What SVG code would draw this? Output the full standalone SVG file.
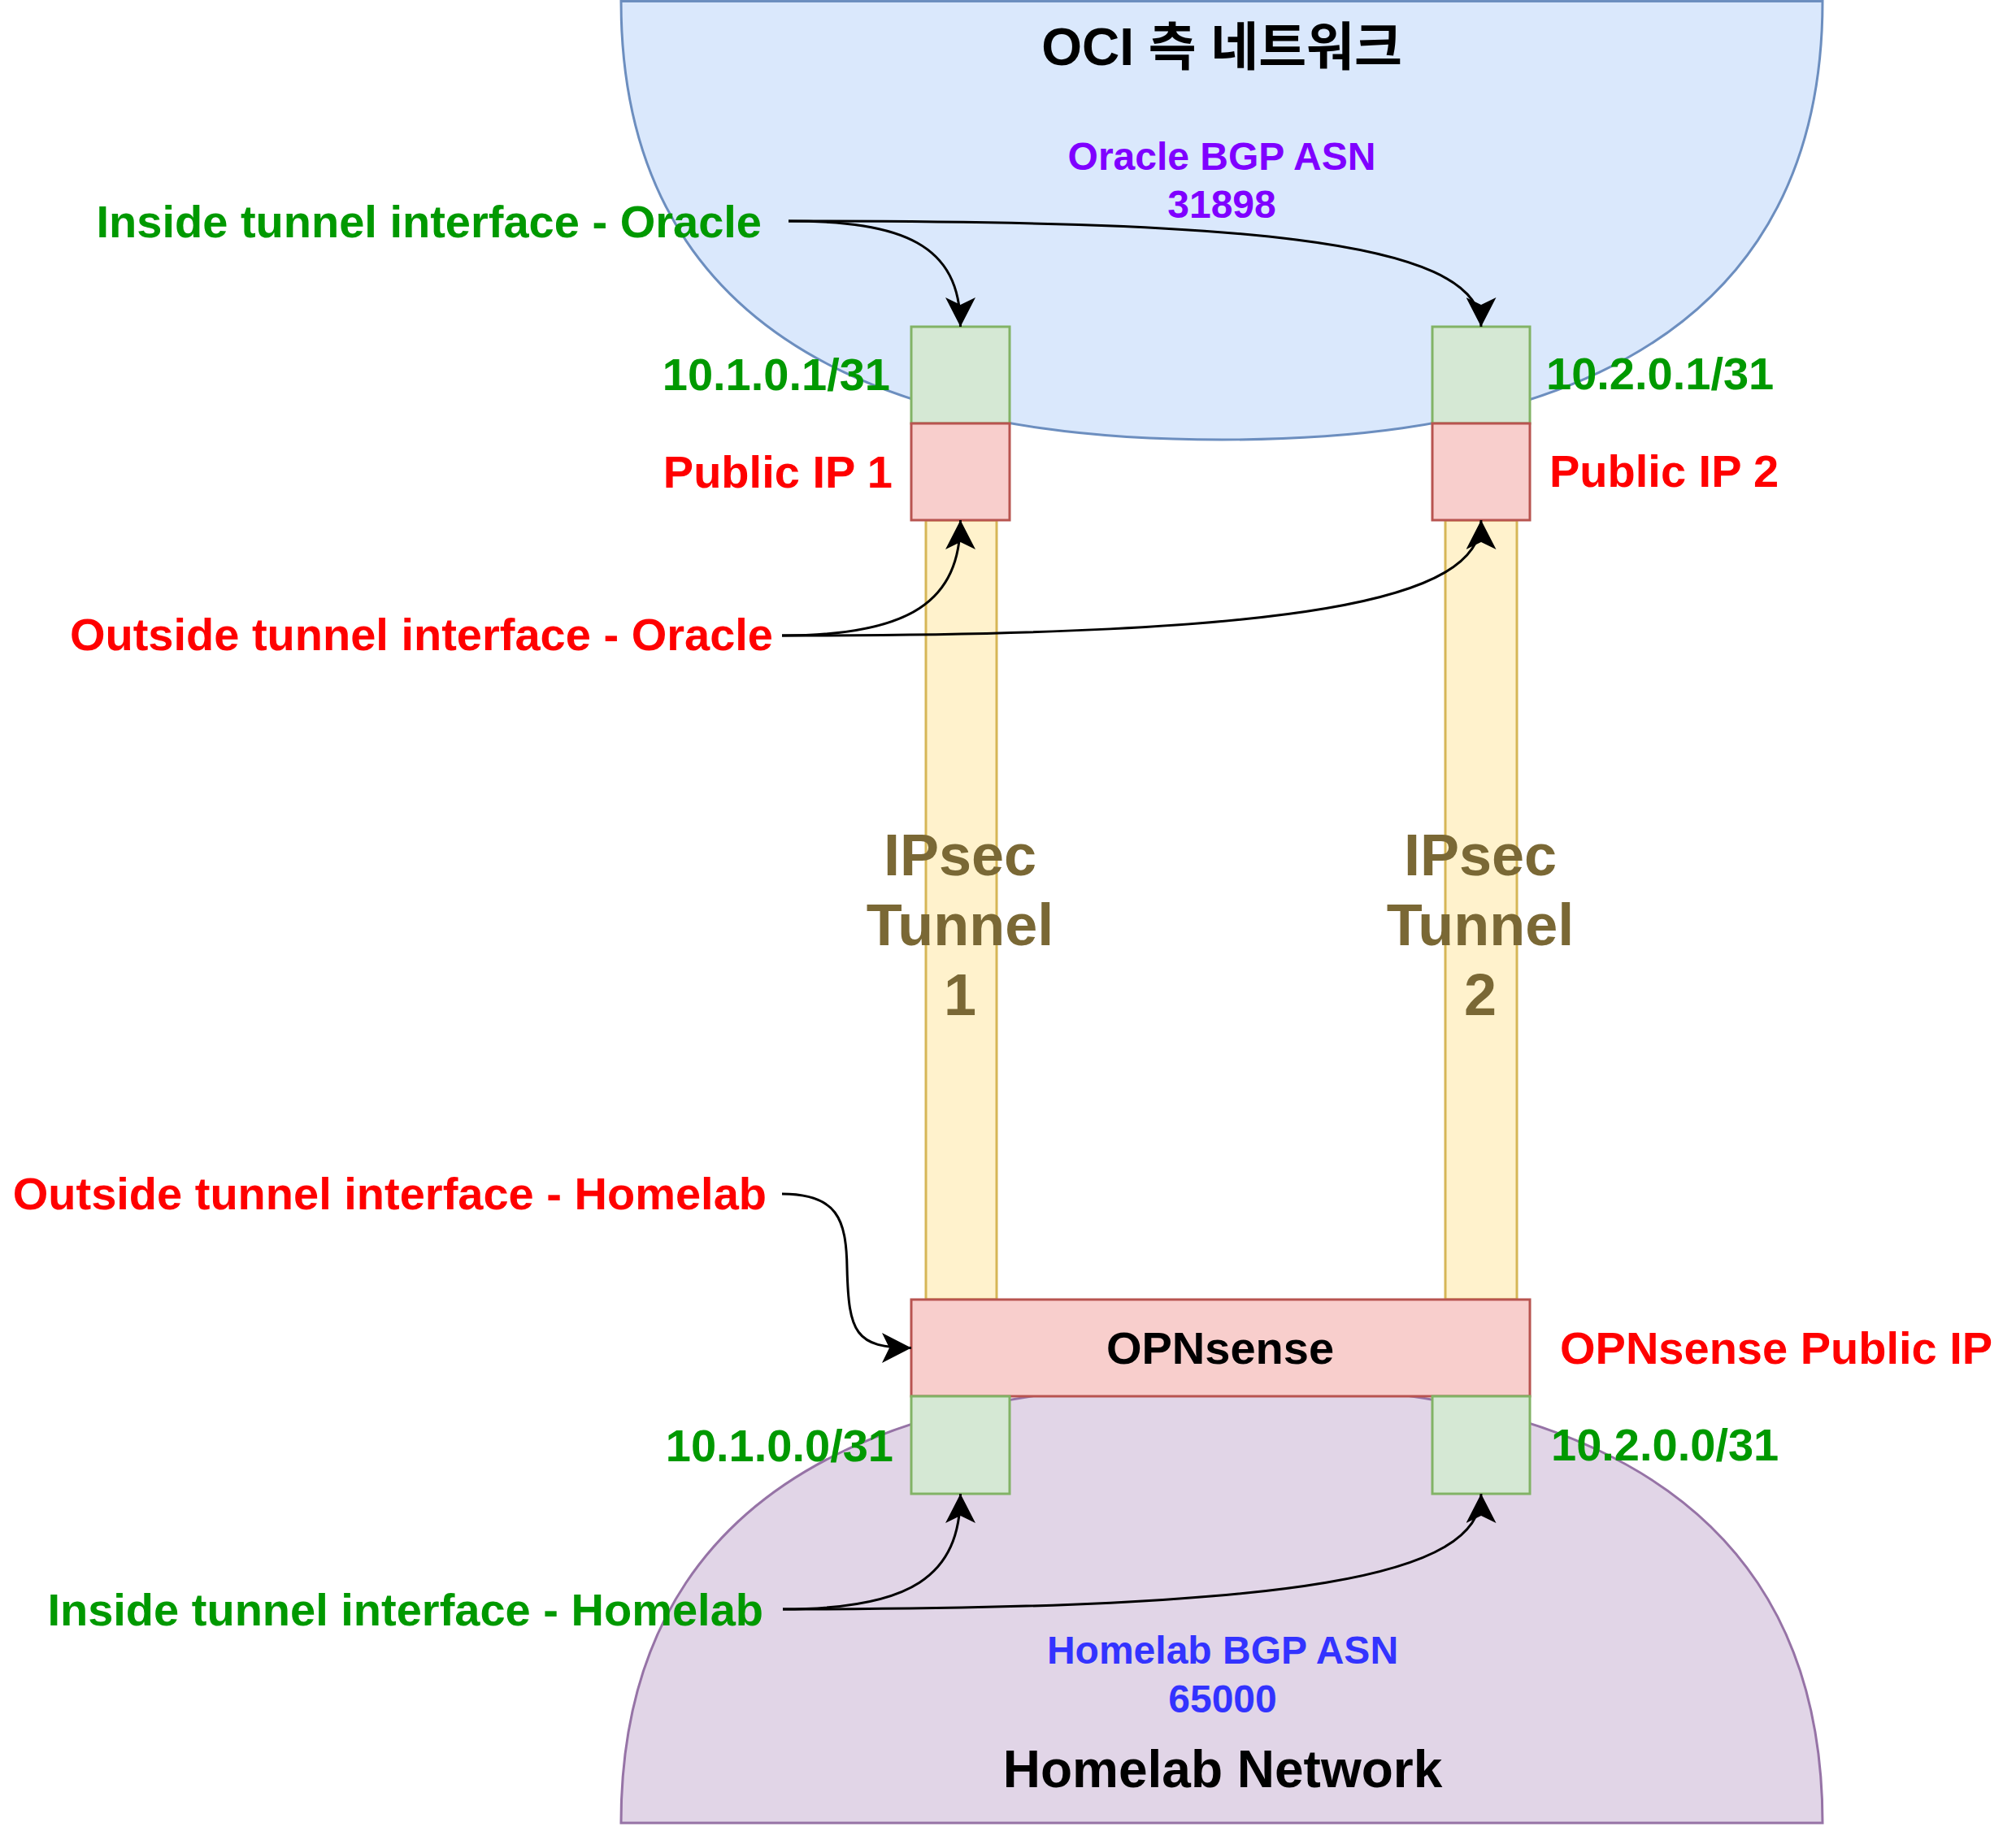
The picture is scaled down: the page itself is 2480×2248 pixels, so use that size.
<svg xmlns="http://www.w3.org/2000/svg" width="2480" height="2248" viewBox="0 0 2480 2248">
<defs>
<style>
text{font-family:"Liberation Sans",Arial,"Noto Sans CJK KR",sans-serif;font-weight:bold}
.lbl{font-size:56px}
.g{fill:#009900}
.r{fill:#ff0000}
.k{fill:#000000}
.asn{font-size:48px}
.ttl{font-size:64px;fill:#000000}
.tun{font-size:72px;fill:#7a6835}
.gbox{fill:#d5e8d4;stroke:#82b366;stroke-width:3}
.rbox{fill:#f8cecc;stroke:#b85450;stroke-width:3}
.bar{fill:#fff2cc;stroke:#d6b656;stroke-width:3}
.edge{fill:none;stroke:#000000;stroke-width:3;marker-end:url(#arr)}
</style>
<marker id="arr" viewBox="0 0 36 37" refX="36" refY="18.5" markerWidth="36" markerHeight="37" markerUnits="userSpaceOnUse" orient="auto">
<path d="M36,18.5 L0,0 L9,18.5 L0,37 Z" fill="#000000"/>
</marker>
</defs>
<rect x="0" y="0" width="2480" height="2248" fill="#ffffff"/>

<g id="oci-network">
<path d="M764,1.5 C764,500 1250,541 1503,541 C1756,541 2242,500 2242,1.5 Z" fill="#dae8fc" stroke="#6c8ebf" stroke-width="3"/>
<text class="ttl" x="1503" y="80" text-anchor="middle">OCI 측 네트워크</text>
<text class="asn" x="1503" y="209" text-anchor="middle" fill="#7f00ff">Oracle BGP ASN</text>
<text class="asn" x="1503" y="268" text-anchor="middle" fill="#7f00ff">31898</text>
</g>

<g id="homelab-network">
<path d="M764,2243 C764,1743 1250,1702 1503,1702 C1756,1702 2242,1743 2242,2243 Z" fill="#e1d5e7" stroke="#9673a6" stroke-width="3"/>
<text class="asn" x="1504" y="2047" text-anchor="middle" fill="#3333ff">Homelab BGP ASN</text>
<text class="asn" x="1504" y="2107" text-anchor="middle" fill="#3333ff">65000</text>
<text class="ttl" x="1504" y="2199" text-anchor="middle">Homelab Network</text>
</g>

<g id="tunnel-1">
<rect class="bar" x="1139" y="640" width="87" height="959"/>
<text class="tun" x="1181" y="1077" text-anchor="middle">IPsec</text>
<text class="tun" x="1181" y="1163" text-anchor="middle">Tunnel</text>
<text class="tun" x="1181" y="1249" text-anchor="middle">1</text>
</g>
<g id="tunnel-2">
<rect class="bar" x="1778" y="640" width="88" height="959"/>
<text class="tun" x="1821" y="1077" text-anchor="middle">IPsec</text>
<text class="tun" x="1821" y="1163" text-anchor="middle">Tunnel</text>
<text class="tun" x="1821" y="1249" text-anchor="middle">2</text>
</g>

<g id="oci-inside-1"><rect class="gbox" x="1121" y="402" width="121" height="119"/></g>
<g id="oci-public-1"><rect class="rbox" x="1121" y="521" width="121" height="119"/></g>
<g id="oci-inside-2"><rect class="gbox" x="1762" y="402" width="120" height="119"/></g>
<g id="oci-public-2"><rect class="rbox" x="1762" y="521" width="120" height="119"/></g>

<g id="opnsense">
<rect class="rbox" x="1121" y="1599" width="761" height="119"/>
<text class="lbl k" x="1501" y="1678" text-anchor="middle">OPNsense</text>
</g>
<g id="home-inside-1"><rect class="gbox" x="1121" y="1718" width="121" height="120"/></g>
<g id="home-inside-2"><rect class="gbox" x="1762" y="1718" width="120" height="120"/></g>

<g id="labels">
<text class="lbl g" x="937" y="292" text-anchor="end">Inside tunnel interface - Oracle</text>
<text class="lbl g" x="1095" y="480" text-anchor="end">10.1.0.1/31</text>
<text class="lbl r" x="1098" y="600" text-anchor="end">Public IP 1</text>
<text class="lbl g" x="1902" y="479">10.2.0.1/31</text>
<text class="lbl r" x="1906" y="599">Public IP 2</text>
<text class="lbl r" x="951" y="800" text-anchor="end">Outside tunnel interface - Oracle</text>
<text class="lbl r" x="943" y="1488" text-anchor="end">Outside tunnel interface - Homelab</text>
<text class="lbl r" x="1919" y="1678">OPNsense Public IP</text>
<text class="lbl g" x="1099" y="1798" text-anchor="end">10.1.0.0/31</text>
<text class="lbl g" x="1908" y="1797">10.2.0.0/31</text>
<text class="lbl g" x="939" y="2000" text-anchor="end">Inside tunnel interface - Homelab</text>
</g>

<g id="connectors">
<path class="edge" d="M970,272 C1110,272 1181.5,300 1181.5,402"/>
<path class="edge" d="M970,272 C1500,272 1822,290 1822,402"/>
<path class="edge" d="M962,782 C1120,782 1181.5,740 1181.5,640"/>
<path class="edge" d="M962,782 C1600,782 1822,740 1822,640"/>
<path class="edge" d="M962,1469 C1030,1469 1041,1500 1042,1560 C1044,1640 1052,1658.5 1121,1658.5"/>
<path class="edge" d="M963,1980 C1120,1980 1181.5,1940 1181.5,1838"/>
<path class="edge" d="M963,1980 C1600,1980 1822,1940 1822,1838"/>
</g>
</svg>
